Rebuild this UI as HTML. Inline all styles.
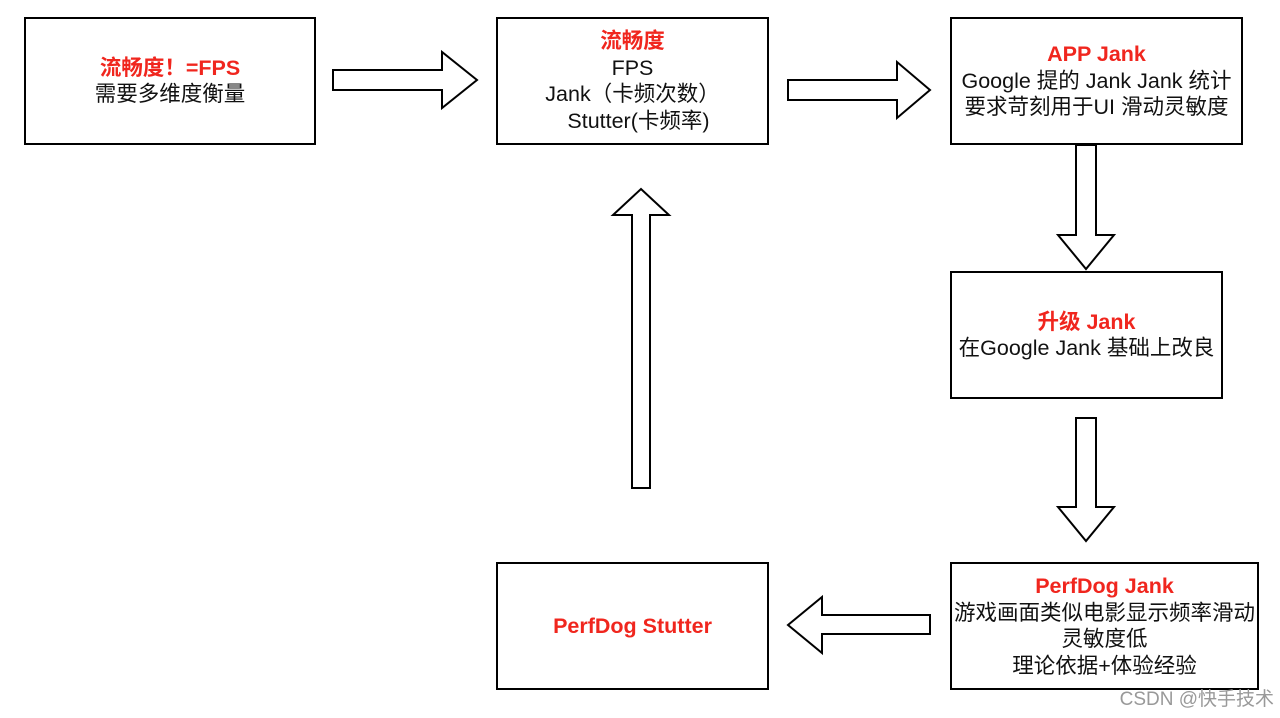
<!DOCTYPE html>
<html><head><meta charset="utf-8"><style>
body{margin:0;width:1280px;height:718px;background:#fff;position:relative;overflow:hidden;font-family:"Liberation Sans","Noto Sans CJK SC",sans-serif;}
.b{position:absolute;border:2px solid #000;box-sizing:border-box;display:flex;flex-direction:column;justify-content:center;align-items:center;text-align:center;font-size:21.5px;line-height:26.5px;color:#111;white-space:nowrap;}
.r{color:#f0261e;font-weight:bold;}
svg{position:absolute;left:0;top:0;}
</style></head><body>
<svg width="1280" height="718">
<g fill="#fff" stroke="#000" stroke-width="2">
<polygon points="333,70 442,70 442,52 477,80 442,108 442,90 333,90"/>
<polygon points="788,80 897,80 897,62 930,90 897,118 897,100 788,100"/>
<polygon points="1076,145 1096,145 1096,235 1114,235 1086,269 1058,235 1076,235"/>
<polygon points="1076,418 1096,418 1096,507 1114,507 1086,541 1058,507 1076,507"/>
<polygon points="930,615 822,615 822,597 788,625 822,653 822,634 930,634"/>
<polygon points="632,488 650,488 650,215 669,215 641,189 613,215 632,215"/>
</g></svg>
<div class="b" style="left:24px;top:17px;width:292px;height:128px"><div class="r">流畅度！=FPS</div><div>需要多维度衡量</div></div>
<div class="b" style="left:496px;top:17px;width:273px;height:128px"><div class="r">流畅度</div><div>FPS</div><div>Jank（卡频次数）</div><div>&nbsp;&nbsp;Stutter(卡频率)</div></div>
<div class="b" style="left:950px;top:17px;width:293px;height:128px"><div class="r">APP Jank</div><div>Google 提的 Jank Jank 统计</div><div>要求苛刻用于UI 滑动灵敏度</div></div>
<div class="b" style="left:950px;top:271px;width:273px;height:128px"><div class="r">升级 Jank</div><div>在Google Jank 基础上改良</div></div>
<div class="b" style="left:950px;top:562px;width:309px;height:128px"><div class="r">PerfDog Jank</div><div>游戏画面类似电影显示频率滑动</div><div>灵敏度低</div><div>理论依据+体验经验</div></div>
<div class="b" style="left:496px;top:562px;width:273px;height:128px"><div class="r">PerfDog Stutter</div></div>
<div style="position:absolute;right:6px;top:684px;font-size:19px;color:#999">CSDN @快手技术</div>
</body></html>
